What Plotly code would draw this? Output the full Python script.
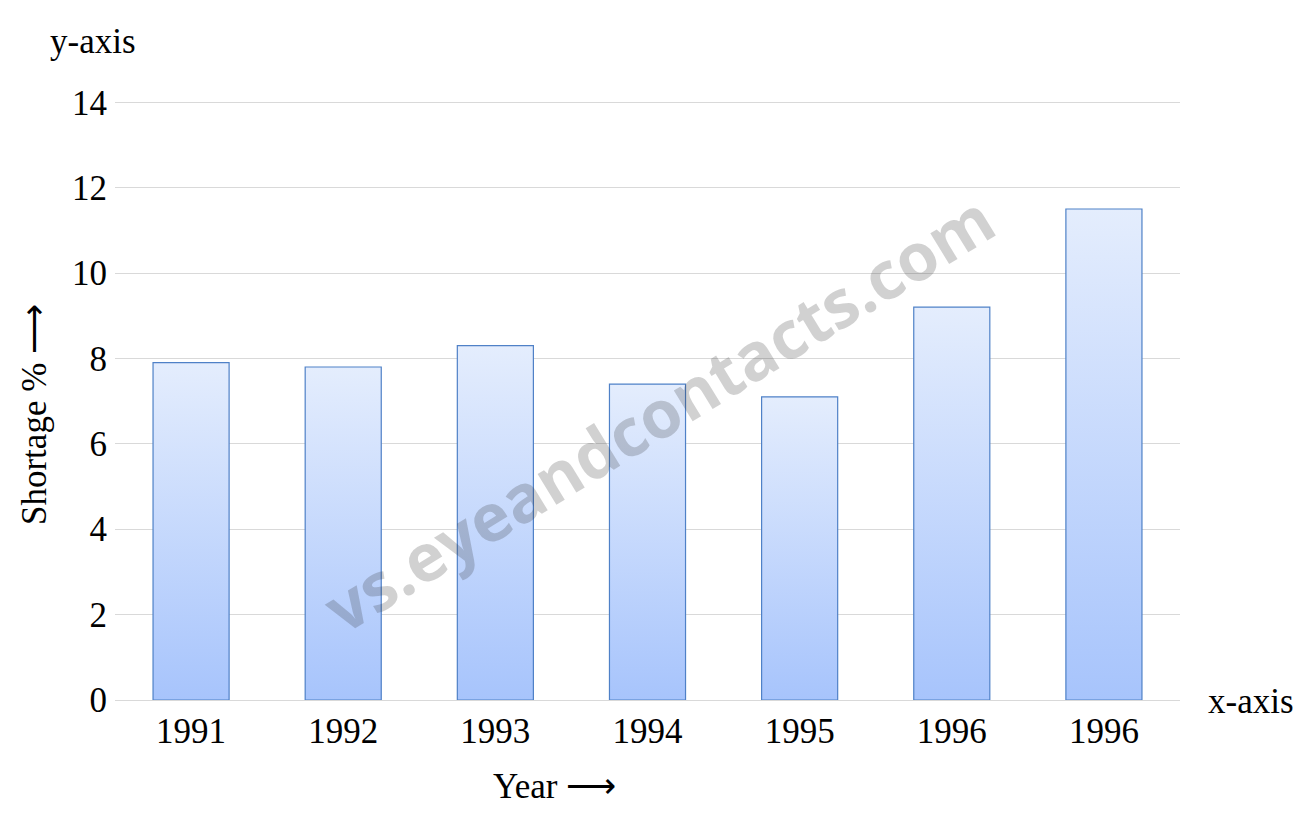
import plotly.graph_objects as go

years = ["1991", "1992", "1993", "1994", "1995", "1996", "1996"]
shortage = [7.9, 7.8, 8.3, 7.4, 7.1, 9.2, 11.5]
y_ticks = [0, 2, 4, 6, 8, 10, 12, 14]

BAR_W = 0.5
FONT = "Liberation Serif"
FS = 35

fig = go.Figure()
for i, v in enumerate(shortage):
    x0, x1 = i - BAR_W / 2, i + BAR_W / 2
    fig.add_trace(go.Scatter(
        x=[x0, x0, x1, x1, x0], y=[0, v, v, 0, 0],
        mode="lines", fill="toself",
        line=dict(color="#4F81C7", width=1.2),
        fillgradient=dict(type="vertical",
                          colorscale=[[0, "#A7C4FC"], [1, "#E4EDFD"]],
                          start=0, stop=v),
        showlegend=False, hoverinfo="skip",
    ))


def label(text, x, y, angle=0, **font):
    f = dict(family=FONT, size=FS, color="black")
    f.update(font)
    return dict(text=text, xref="paper", yref="paper", x=x, y=y, showarrow=False,
                xanchor="center", yanchor="middle", textangle=angle, font=f)


fig.update_layout(
    width=1302, height=822,
    margin=dict(l=107, r=130, t=93, b=130),
    paper_bgcolor="white", plot_bgcolor="white",
    font=dict(family=FONT, size=FS, color="black"),
    xaxis=dict(range=[-0.5, 6.5], tickvals=list(range(len(years))), ticktext=years,
               showgrid=False, zeroline=False, showline=True, linecolor="#D9D9D9",
               linewidth=1, ticks="", ticklabelstandoff=0,
               tickfont=dict(family=FONT, size=FS)),
    yaxis=dict(range=[0, 14.03], tickvals=y_ticks, showgrid=True, gridcolor="#D9D9D9",
               gridwidth=1, zeroline=False, showline=False, ticks="",
               ticklabelstandoff=7, tickfont=dict(family=FONT, size=FS)),
    annotations=[
        label("vs.eyeandcontacts.com", 0.51, 0.481, -31.5,
              family="Open Sans", size=66, color="rgba(40,40,40,0.21)", weight="bold"),
        label("y-axis", -0.0207, 1.0985),
        label("x-axis", 1.0667, -0.003),
        label("Year ⟶", 0.413, -0.1436),
        label("Shortage % ⟶", -0.075, 0.476, -90),
    ],
)

fig.write_html("out.html")
